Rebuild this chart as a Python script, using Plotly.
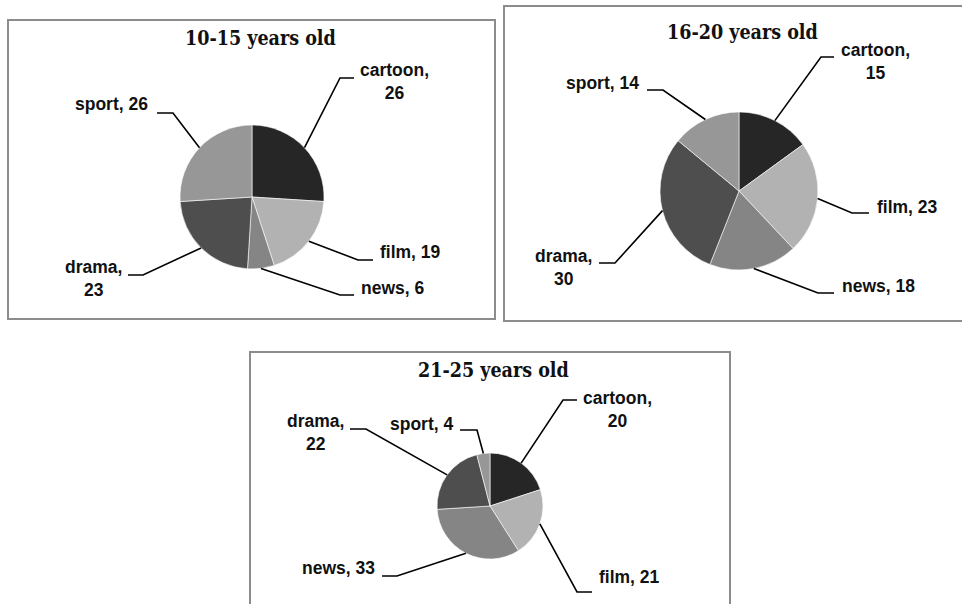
import math
import plotly.graph_objects as go

W, H = 962, 604

# ---- data -------------------------------------------------------------
categories = ["cartoon", "film", "news", "drama", "sport"]
values_10_15 = [26, 19, 6, 23, 26]
values_16_20 = [15, 23, 18, 30, 14]
values_21_25 = [20, 21, 33, 22, 4]
titles = ["10-15 years old", "16-20 years old", "21-25 years old"]

# ---- styling ----------------------------------------------------------
slice_colors = ["#262626", "#b2b2b2", "#858585", "#4e4e4e", "#979797"]
border_color = "#8c8c8c"
label_font = dict(family="Liberation Sans, Arial, sans-serif", size=17.5, color="#111111")
title_font = dict(family="DejaVu Serif Condensed, DejaVu Serif, serif", size=19.5, color="#111111")

# Panel frames, pie placement and label placement (pixel space, y downwards).
# Each label entry: elbow point, hook direction/length, text position, anchor, two-line flag.
panels = [
    dict(
        values=values_10_15, box=(8, 20, 495, 319), center=(252, 197), r=72,
        title_pos=(260, 38),
        labels={
            "cartoon": ((340, 78), 14, (394, 81), "center", True),
            "film": ((358, 260), 15, (378, 252), "left", False),
            "news": ((340, 295), 14, (359, 288), "left", False),
            "drama": ((143, 275), -15, (93, 278), "center", True),
            "sport": ((173, 113), -16, (150, 104), "right", False),
        },
    ),
    dict(
        values=values_16_20, box=(504, 6, 964, 321), center=(739, 191), r=79,
        title_pos=(742, 32),
        labels={
            "cartoon": ((821, 57), 13, (875, 61), "center", True),
            "film": ((852, 213), 17, (875, 207), "left", False),
            "news": ((818, 293), 16, (840, 286), "left", False),
            "drama": ((615, 263), -16, (563, 267), "center", True),
            "sport": ((663, 90), -16, (641, 83), "right", False),
        },
    ),
    dict(
        values=values_21_25, box=(250, 352, 730, 612), center=(490, 506), r=53,
        title_pos=(493, 370),
        labels={
            "cartoon": ((563, 400), 14, (617, 409), "center", True),
            "film": ((577, 592), 15, (597, 577), "left", False),
            "news": ((397, 576), -15, (377, 568), "right", False),
            "drama": ((366, 429), -16, (315, 432), "center", True),
            "sport": ((477, 430), -17, (455, 424), "right", False),
        },
    ),
]

fig = go.Figure()
shapes = []
annotations = []

for i, p in enumerate(panels):
    cx, cy = p["center"]
    r = p["r"]
    vals = p["values"]

    # frame
    x0, y0, x1, y1 = p["box"]
    shapes.append(dict(type="rect", xref="x", yref="y", x0=x0, y0=y0, x1=x1, y1=y1,
                       line=dict(color=border_color, width=2), layer="below"))

    # pie placed so that its radius equals r pixels around (cx, cy)
    fig.add_trace(go.Pie(
        labels=categories, values=vals, sort=False, direction="clockwise", rotation=0,
        marker=dict(colors=slice_colors, line=dict(color="#ffffff", width=0.6)),
        textinfo="none", hoverinfo="label+value", showlegend=False,
        domain=dict(x=[(cx - r) / W, (cx + r) / W], y=[1 - (cy + r) / H, 1 - (cy - r) / H]),
    ))

    # title
    annotations.append(dict(xref="x", yref="y", x=p["title_pos"][0], y=p["title_pos"][1],
                            text=f"<b>{titles[i]}</b>", showarrow=False, font=title_font,
                            xanchor="center", yanchor="middle"))

    # leader lines and data labels
    total = sum(vals)
    cum = 0
    for cat, v in zip(categories, vals):
        mid = (cum + v / 2) / total * 2 * math.pi
        cum += v
        px = cx + r * math.sin(mid)
        py = cy - r * math.cos(mid)
        (ex, ey), hook, (tx, ty), anchor, two = p["labels"][cat]
        hx = ex + hook
        shapes.append(dict(type="path", xref="x", yref="y",
                           path=f"M {px:.2f},{py:.2f} L {ex},{ey} L {hx},{ey}",
                           line=dict(color="#000000", width=1.6), layer="above"))
        txt = f"<b>{cat},<br>{v}</b>" if two else f"<b>{cat}, {v}</b>"
        annotations.append(dict(xref="x", yref="y", x=tx, y=ty, text=txt, showarrow=False,
                                font=label_font, xanchor=anchor, yanchor="middle",
                                align="center"))

fig.update_layout(
    width=W, height=H,
    margin=dict(l=0, r=0, t=0, b=0),
    paper_bgcolor="#ffffff", plot_bgcolor="rgba(0,0,0,0)",
    xaxis=dict(range=[0, W], visible=False, fixedrange=True, domain=[0, 1]),
    yaxis=dict(range=[H, 0], visible=False, fixedrange=True, domain=[0, 1]),
    shapes=shapes, annotations=annotations,
)

fig.write_html("out.html")
